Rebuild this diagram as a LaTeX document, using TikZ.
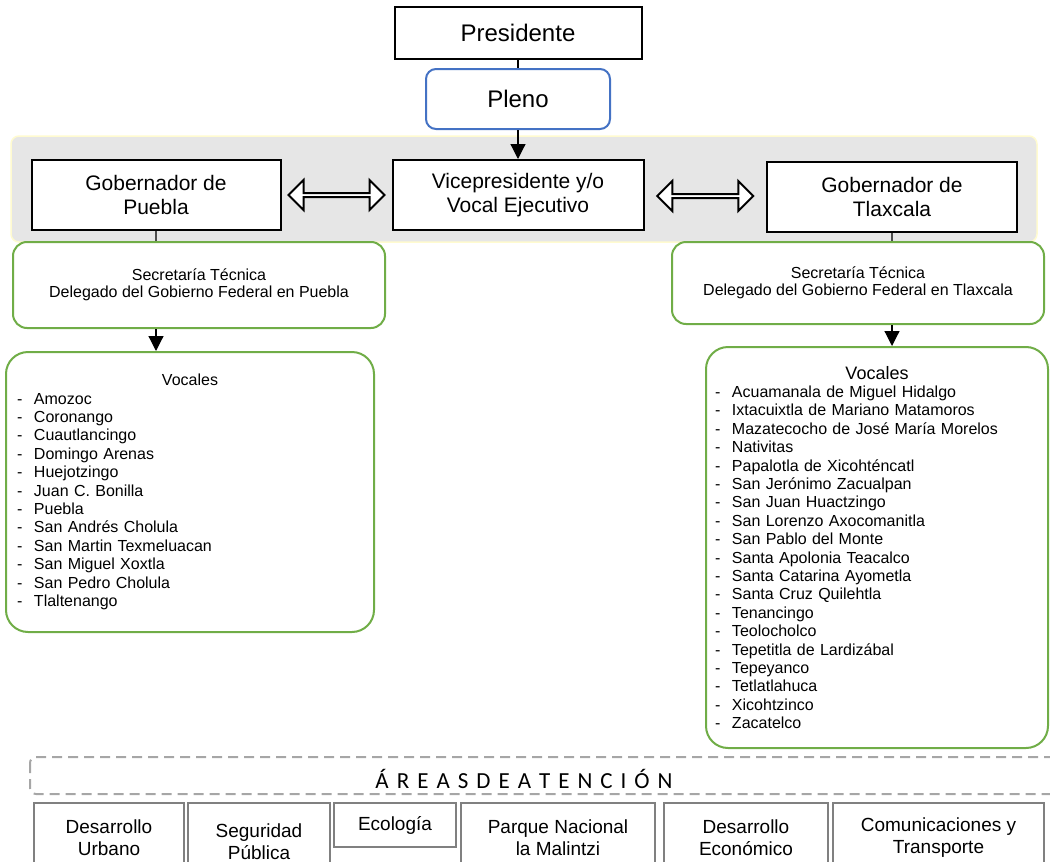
\documentclass[tikz,border=0pt]{standalone}
\usepackage{fontspec}
\setmainfont{Liberation Sans}
\newfontfamily\areafont{Carlito}
\usetikzlibrary{shapes.arrows, arrows.meta, calc}
\definecolor{plenoblue}{HTML}{4472C4}
\definecolor{secgreen}{HTML}{70AD47}
\definecolor{bandgray}{HTML}{E6E6E6}
\definecolor{bandline}{HTML}{FFFBD0}
\definecolor{areagray}{HTML}{A6A6A6}
\tikzstyle{jefe} = [rectangle, 
minimum width=247pt, 
minimum height=52pt,
text centered, 
draw=black, line width=2pt,
fill=white, font=\fontsize{24}{28}\selectfont]
\tikzstyle{gob} = [rectangle, 
minimum width=250pt, 
minimum height=70pt, 
align=center, 
draw=black, line width=2pt,
fill=white, font=\fontsize{21}{24}\selectfont]
\tikzstyle{sec} = [rectangle, rounded corners=14pt, 
minimum width=372pt, 
minimum height=86pt, 
align=center, 
draw=secgreen, line width=2pt,
fill=white, font=\fontsize{16}{17.5}\selectfont]
\tikzstyle{voc} = [rectangle, rounded corners=22pt, 
align=left, 
draw=secgreen, line width=2pt,
font=\fontsize{16}{18.4}\selectfont]
\tikzstyle{area} = [rectangle, anchor=north west, 
minimum height=70pt, 
align=center, 
draw=gray, line width=2pt,
font=\fontsize{19}{22}\selectfont]
\tikzstyle{dbl} = [double arrow, draw=black, line width=2pt, fill=white, 
minimum width=30pt, minimum height=96pt, 
double arrow head extend=6.5pt, double arrow tip angle=90, inner sep=0pt]
\tikzstyle{tri} = [-{Triangle[width=15pt,length=15pt]}, line width=1.2pt]
\newcommand{\munic}[1]{\makebox[17pt][l]{-}#1}

\begin{document}
\begin{tikzpicture}[x=1pt, y=-1pt, node distance=66pt]

\clip (0,0) rectangle (1050,862);
\draw[fill=bandgray, draw=bandline, line width=1.5pt, rounded corners=8pt] (11,136) rectangle (1037,242);

\node (pres) [jefe] at (518,33) {Presidente};
\node (pleno) [jefe, below of=pres, rounded corners=10pt, draw=plenoblue, minimum width=184pt, minimum height=60pt] {Pleno};
\draw[line width=1.2pt] (pres) -- (pleno);

\node (vice) [gob, below of=pleno, yshift=-30pt, minimum width=251pt] {Vicepresidente y/o\\Vocal Ejecutivo};
\node (gobP) [gob, left of=vice, xshift=-296pt, minimum width=249pt] {Gobernador de\\Puebla};
\node (gobT) [gob, right of=vice, xshift=308pt, yshift=-2pt] {Gobernador de\\Tlaxcala};
\draw[tri] (pleno) -- (vice);
\node (arrL) [dbl] at ($(gobP.east)!0.5!(vice.west)$) {};
\node (arrR) [dbl] at ($(vice.east)!0.5!(gobT.west)$) {};

\node (secP) [sec, below of=gobP, xshift=43pt, yshift=-24pt] {Secretaría Técnica\\Delegado del Gobierno Federal en Puebla};
\node (secT) [sec, below of=gobT, xshift=-34pt, yshift=-20pt, minimum height=82pt] {Secretaría Técnica\\Delegado del Gobierno Federal en Tlaxcala};
\draw[line width=1.2pt, black!70] (gobP.south) -- (gobP.south |- secP.north);
\draw[line width=1.2pt, black!70] (gobT.south) -- (gobT.south |- secT.north);

\node (vocP) [voc, below of=secP, xshift=-9pt, yshift=-141pt, minimum width=368pt, minimum height=280pt, text width=346pt, inner xsep=11pt] {\makebox[\linewidth]{Vocales}\\
\munic{Amozoc}\\
\munic{Coronango}\\
\munic{Cuautlancingo}\\
\munic{Domingo Arenas}\\
\munic{Huejotzingo}\\
\munic{Juan C. Bonilla}\\
\munic{Puebla}\\
\munic{San Andrés Cholula}\\
\munic{San Martin Texmeluacan}\\
\munic{San Miguel Xoxtla}\\
\munic{San Pedro Cholula}\\
\munic{Tlaltenango}};
\node (vocT) [voc, below of=secT, xshift=19pt, yshift=-198.5pt, minimum width=342pt, minimum height=401pt, text width=324pt, inner xsep=9pt] {\makebox[\linewidth]{\fontsize{18}{20}\selectfont Vocales}\\
\munic{Acuamanala de Miguel Hidalgo}\\
\munic{Ixtacuixtla de Mariano Matamoros}\\
\munic{Mazatecocho de José María Morelos}\\
\munic{Nativitas}\\
\munic{Papalotla de Xicohténcatl}\\
\munic{San Jerónimo Zacualpan}\\
\munic{San Juan Huactzingo}\\
\munic{San Lorenzo Axocomanitla}\\
\munic{San Pablo del Monte}\\
\munic{Santa Apolonia Teacalco}\\
\munic{Santa Catarina Ayometla}\\
\munic{Santa Cruz Quilehtla}\\
\munic{Tenancingo}\\
\munic{Teolocholco}\\
\munic{Tepetitla de Lardizábal}\\
\munic{Tepeyanco}\\
\munic{Tetlatlahuca}\\
\munic{Xicohtzinco}\\
\munic{Zacatelco}};
\draw[tri] (gobP.south |- secP.south) -- (gobP.south |- vocP.north);
\draw[tri] (gobT.south |- secT.south) -- (gobT.south |- vocT.north);

% areas de atencion
\draw[areagray, line width=2pt, dash pattern=on 10pt off 6pt, rounded corners=6pt] (30,757) rectangle (1080,794);
\node (areas) [font=\areafont\fontsize{23}{26}\selectfont] at (524,779) {\spaceskip=8pt Á R E A S D E A T E N C I Ó N};

\node (desU) [area, minimum width=150pt] at (33,802) {Desarrollo\\Urbano};
\node (segP) [area, minimum width=142pt, minimum height=78pt] at (187,802) {Seguridad\\Pública};
\node (eco) [area, minimum width=122pt, minimum height=44pt] at (333,802) {Ecología};
\node (parq) [area, minimum width=194pt] at (460,802) {Parque Nacional\\la Malintzi};
\node (desE) [area, minimum width=164pt] at (663,802) {Desarrollo\\Económico};
\node (com) [area, minimum width=211pt] at (832,802) {Comunicaciones y\\Transporte};

\end{tikzpicture}
\end{document}
